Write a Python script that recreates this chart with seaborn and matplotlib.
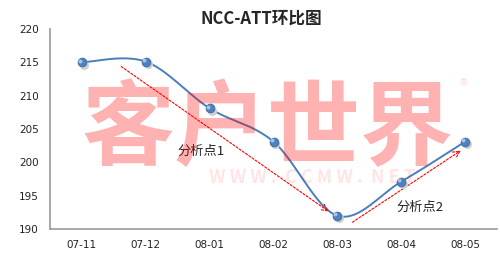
import numpy as np
import pandas as pd
import matplotlib
matplotlib.use("Agg")
import matplotlib.pyplot as plt
import seaborn as sns

categories = ["07-11", "07-12", "08-01", "08-02", "08-03", "08-04", "08-05"]
values = [215.0, 215.1, 208.1, 203.1, 192.0, 197.1, 203.1]
y_ticks = [190, 195, 200, 205, 210, 215, 220]
title = "NCC-ATT环比图"
notes = ["分析点1", "分析点2"]

sns.set_style("white")
plt.rcParams['font.family'] = ['Noto Sans CJK SC', 'DejaVu Sans']

fig = plt.figure(figsize=(5, 2.63), dpi=100)
ax = fig.add_axes([0.1, 0.129, 0.894, 0.761])

x = np.arange(len(categories))
y = np.array(values)

# Catmull-Rom smoothing (Excel-like smoothed line)
def catmull(xs, ys, n=30):
    px = np.concatenate([[xs[0]], xs, [xs[-1]]])
    py = np.concatenate([[ys[0]], ys, [ys[-1]]])
    outx, outy = [], []
    for i in range(1, len(px) - 2):
        t = np.linspace(0, 1, n)
        for P, out in ((px, outx), (py, outy)):
            p0, p1, p2, p3 = P[i-1], P[i], P[i+1], P[i+2]
            out.extend(0.5 * ((2*p1) + (-p0+p2)*t + (2*p0-5*p1+4*p2-p3)*t**2 + (-p0+3*p1-3*p2+p3)*t**3))
    return np.array(outx), np.array(outy)

sx, sy = catmull(x.astype(float), y)
smooth = pd.DataFrame({"x": sx, "y": sy})
pts = pd.DataFrame({"x": x, "y": y})

sns.lineplot(data=smooth, x="x", y="y", ax=ax, color="#4a7ebb", lw=1.4, sort=False, estimator=None)
# marker shadow
ax.scatter(x + 0.03, y - 0.35, s=42, color="#d0d0d0", zorder=4, linewidths=0)
sns.scatterplot(data=pts, x="x", y="y", ax=ax, s=40, color="#4f81bd", edgecolor="#3a6aa5", linewidth=0.6, zorder=5)
ax.scatter(x - 0.03, y + 0.25, s=8, color="#a9c4e8", zorder=6, linewidths=0)

# red dashed arrows
ax.annotate("", xy=(3.9, 192.4), xytext=(0.58, 214.6),
            arrowprops=dict(arrowstyle="->", color="red", lw=0.8, ls=(0, (2, 1.5)), mutation_scale=12))
ax.annotate("", xy=(5.97, 202.0), xytext=(4.2, 190.8),
            arrowprops=dict(arrowstyle="->", color="red", lw=0.8, ls=(0, (2, 1.5)), mutation_scale=12))

ax.text(1.86, 201.7, notes[0], fontsize=9.5, ha="center", va="center", color="#222222")
ax.text(5.3, 193.3, notes[1], fontsize=9.5, ha="center", va="center", color="#222222")

ax.set_xlim(-0.5, 6.5)
ax.set_ylim(190, 220)
ax.set_yticks(y_ticks)
ax.set_yticklabels([str(v) for v in y_ticks], fontsize=7.5, family="DejaVu Sans", color="#222222")
ax.set_xticks(x)
ax.set_xticklabels(categories, fontsize=7.5, family="DejaVu Sans", color="#222222")
ax.set_xticks(np.arange(-0.5, 7, 1), minor=True)
ax.tick_params(axis="x", which="major", length=0, pad=8)
ax.tick_params(axis="x", which="minor", length=4, color="#999999", direction="out")
ax.tick_params(axis="y", length=4, color="#999999", direction="out", pad=4)
ax.set_xlabel("")
ax.set_ylabel("")
for s in ["top", "right"]:
    ax.spines[s].set_visible(False)
for s in ["left", "bottom"]:
    ax.spines[s].set_color("#999999")
    ax.spines[s].set_linewidth(1.2)

fig.text(0.522, 0.93, title, ha="center", va="center", fontsize=12, fontweight="bold")

# watermark
fig.text(0.535, 0.505, "客户世界", ha="center", va="center", fontsize=67, fontweight="heavy",
         color="red", alpha=0.3, zorder=10)
fig.text(0.928, 0.67, "®", ha="center", va="center", fontsize=12, color="red", alpha=0.12, zorder=10)
fig.text(0.625, 0.325, "W W W .  C C M W .  N E T", ha="center", va="center", fontsize=13,
         fontweight="bold", color="red", alpha=0.1, zorder=10)

fig.savefig("out.png", dpi=100)
